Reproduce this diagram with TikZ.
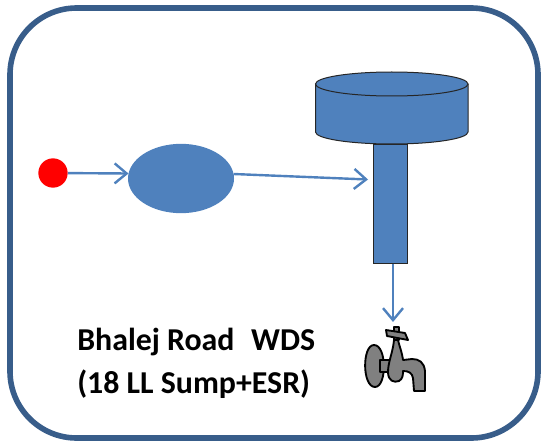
\documentclass[tikz,border=0pt]{standalone}
\usepackage{fontspec}
\setmainfont{Carlito}
\usetikzlibrary{arrows.meta,shapes.geometric}
\definecolor{shapeblue}{RGB}{79,129,189}
\definecolor{framec}{RGB}{56,93,138}
\definecolor{tapg}{RGB}{128,128,128}
\tikzset{
  px/.style={x=0.75pt,y=-0.75pt},
  link/.style={draw=shapeblue,line width=1.8pt,-{Straight Barb[length=9pt,width=15pt,line width=1.8pt]}},
  tank/.style={fill=shapeblue,draw=black!85,line width=0.75pt},
  tapline/.style={fill=tapg,draw=black,line width=1.4pt,line join=round},
  lbl/.style={font=\bfseries\fontsize{23.9pt}{32pt}\selectfont,align=left,anchor=north west,inner sep=0pt}
}
\begin{document}
\begin{tikzpicture}[px]
\useasboundingbox (0,0) rectangle (541,442);
\draw[framec,line width=4.2pt,rounded corners=50pt] (10,8) rectangle (538,438);
% tank
\draw[tank] (315.5,84) -- (315.5,132) arc[start angle=180,end angle=0,x radius=76.25,y radius=12] -- (468,84);
\draw[tank] (391.75,84) ellipse[x radius=76.25,y radius=12];
\node[tank,minimum width=25.5pt,minimum height=89.25pt,inner sep=0pt] (column) at (390,203.5) {};
\node[circle,fill=red,minimum width=22pt,inner sep=0pt] (source) at (53,173) {};
\node[ellipse,fill=shapeblue,minimum width=79.5pt,minimum height=52pt,inner sep=0pt] (sump) at (181,178.5) {};
\coordinate (tapin) at (393,322);
\coordinate (columnout) at (393,263.5);
\coordinate (columnin) at (368,179.5);
\coordinate (sumpin) at (128.5,173.5);
\coordinate (sumpout) at (233.5,174);
\draw[link] (source) -- (sumpin);
\draw[link] (sumpout) -- (columnin);
\draw[link] (columnout) -- (tapin);
% tap
\draw[tapline] (374,345) .. controls (362,345) and (362,387) .. (375,387) .. controls (387,387) and (387,345) .. (374,345) -- cycle;
\draw[tapline] (380,360) rectangle (392,372);
\draw[tapline] (394,340) .. controls (393,352) and (388,362) .. (388,372) .. controls (388,381) and (394,383) .. (399,381) .. controls (403,379) and (403,374) .. (403,371) .. controls (409,371) and (412,373) .. (413,378) -- (414,391) -- (425,391) -- (425,371) .. controls (424,362) and (419,359) .. (412,359) -- (403,360) .. controls (402,352) and (399,345) .. (398,340) -- cycle;
\draw[tapline] (394,327) rectangle (399,340);
\draw[tapline] (386,330) -- (405,333) -- (408,340) -- (387,336) -- cycle;
\node[lbl] (title) at (77,328) {Bhalej Road\hspace{0.52em}WDS\\(18 LL Sump+ESR)};
\end{tikzpicture}
\end{document}
